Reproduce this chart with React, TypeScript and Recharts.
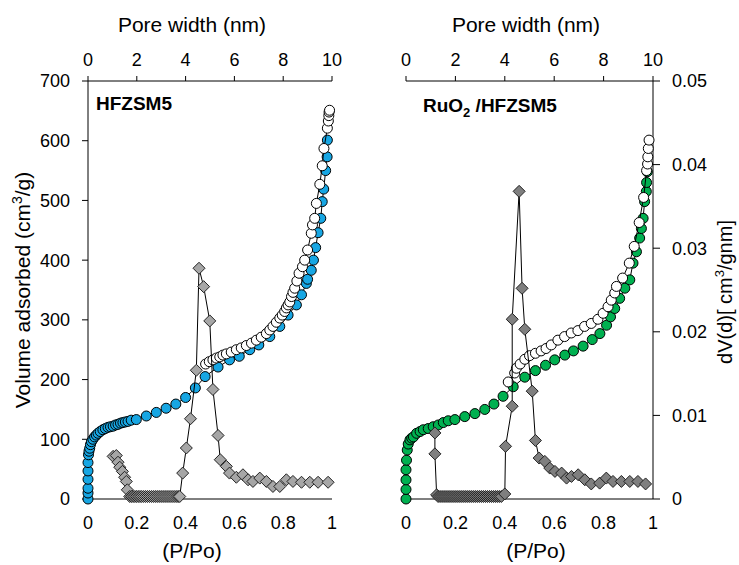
import React from "react";
import { ScatterChart, Scatter, XAxis, YAxis } from "recharts";

const FONT = '"Liberation Sans", Arial, sans-serif';

// HFZSM5 isotherm (P/Po vs volume adsorbed, cm3/g)
const hfAdsP = [0, 0, 0, 0, 0, 0, 0.002, 0.004, 0.007, 0.01, 0.014, 0.02, 0.027, 0.034, 0.041, 0.05, 0.061, 0.071, 0.082, 0.092, 0.103, 0.113, 0.123, 0.133, 0.143, 0.153, 0.164, 0.177, 0.198, 0.239, 0.28, 0.32, 0.36, 0.4, 0.44, 0.48, 0.533, 0.58, 0.62, 0.663, 0.7, 0.745, 0.786, 0.82, 0.854, 0.875, 0.895, 0.9, 0.915, 0.924, 0.933, 0.943, 0.954, 0.96, 0.966, 0.974, 0.98, 0.981];
const hfAdsV = [0, 10, 18, 33, 47, 61, 74, 80, 85, 91, 96, 100, 104, 107, 110, 113, 116, 118, 120, 121, 122, 124, 125, 127, 128, 129, 130, 132, 133, 139, 145, 152, 159, 170, 186, 205, 221, 233, 239, 250, 258, 272, 289, 308, 325, 342, 361, 368, 383, 400, 421, 446, 470, 498, 519, 550, 573, 601];
const hfDesP = [0.482, 0.497, 0.512, 0.526, 0.54, 0.553, 0.567, 0.587, 0.608, 0.628, 0.649, 0.67, 0.69, 0.71, 0.731, 0.745, 0.758, 0.772, 0.786, 0.796, 0.806, 0.813, 0.82, 0.827, 0.834, 0.84, 0.847, 0.856, 0.865, 0.879, 0.888, 0.9, 0.915, 0.92, 0.929, 0.936, 0.95, 0.96, 0.967, 0.981, 0.985, 0.987, 0.988, 0.99];
const hfDesV = [226, 230, 233, 236, 238, 241, 243, 246, 250, 253, 257, 261, 266, 271, 277, 283, 289, 296, 303, 308, 314, 320, 325, 330, 339, 346, 353, 365, 378, 389, 400, 417, 445, 459, 470, 495, 527, 558, 587, 621, 633, 642, 648, 651];
// HFZSM5 pore size distribution (pore width nm vs dV(d))
const hfPsdW = [1.03, 1.16, 1.23, 1.3, 1.41, 1.5, 1.57, 1.61, 1.71, 1.78, 1.85, 1.92, 1.99, 2.06, 2.13, 2.2, 2.28, 2.36, 2.44, 2.52, 2.6, 2.68, 2.76, 2.84, 2.92, 3.0, 3.08, 3.16, 3.24, 3.32, 3.4, 3.48, 3.56, 3.64, 3.7, 3.76, 3.88, 4.03, 4.2, 4.44, 4.55, 4.74, 4.99, 5.12, 5.33, 5.42, 5.67, 5.8, 6.08, 6.35, 6.56, 6.76, 7.04, 7.31, 7.58, 7.86, 8.13, 8.4, 8.75, 9.09, 9.43, 9.84];
const hfPsdD = [0.0051, 0.0052, 0.0044, 0.0038, 0.0033, 0.0026, 0.0021, 0.0011, 0.0003, 0.0003, 0.0003, 0.0003, 0.0003, 0.0003, 0.0003, 0.0003, 0.0003, 0.0003, 0.0003, 0.0003, 0.0003, 0.0003, 0.0003, 0.0003, 0.0003, 0.0003, 0.0003, 0.0003, 0.0003, 0.0003, 0.0003, 0.0003, 0.0003, 0.0003, 0.0003, 0.0003, 0.0031, 0.0061, 0.0096, 0.0154, 0.0276, 0.0254, 0.0213, 0.0131, 0.0076, 0.0047, 0.0039, 0.0031, 0.0026, 0.0029, 0.0023, 0.0021, 0.0025, 0.0021, 0.0015, 0.0015, 0.0023, 0.0021, 0.002, 0.002, 0.002, 0.002];

// RuO2/HFZSM5 isotherm
const ruAdsP = [0, 0, 0, 0, 0.002, 0.005, 0.009, 0.016, 0.023, 0.03, 0.043, 0.057, 0.07, 0.09, 0.11, 0.131, 0.151, 0.171, 0.198, 0.238, 0.279, 0.319, 0.356, 0.393, 0.434, 0.481, 0.524, 0.565, 0.602, 0.643, 0.678, 0.717, 0.754, 0.785, 0.812, 0.828, 0.845, 0.865, 0.886, 0.906, 0.919, 0.933, 0.946, 0.953, 0.96, 0.966, 0.973, 0.974, 0.977];
const ruAdsV = [0, 16, 32, 49, 65, 82, 92, 99, 102, 104, 110, 113, 116, 118, 121, 124, 128, 131, 133, 138, 143, 150, 159, 172, 188, 204, 215, 224, 233, 241, 248, 256, 267, 277, 291, 305, 319, 336, 353, 367, 395, 414, 437, 453, 470, 498, 515, 530, 548];
const ruDesP = [0.414, 0.44, 0.447, 0.462, 0.481, 0.5, 0.524, 0.547, 0.567, 0.588, 0.615, 0.642, 0.669, 0.696, 0.723, 0.75, 0.777, 0.798, 0.818, 0.831, 0.845, 0.852, 0.877, 0.904, 0.924, 0.944, 0.962, 0.974, 0.978, 0.979, 0.981, 0.984];
const ruDesV = [196, 211, 219, 226, 234, 240, 244, 248, 252, 258, 266, 272, 278, 282, 289, 294, 301, 311, 322, 333, 345, 356, 370, 395, 423, 463, 505, 550, 561, 573, 587, 601];
// RuO2/HFZSM5 pore size distribution
const ruPsdW = [1.17, 1.17, 1.24, 1.3, 1.38, 1.46, 1.54, 1.62, 1.7, 1.78, 1.86, 1.94, 2.02, 2.1, 2.18, 2.26, 2.34, 2.42, 2.5, 2.58, 2.66, 2.74, 2.82, 2.9, 2.98, 3.06, 3.14, 3.22, 3.3, 3.38, 3.46, 3.54, 3.62, 3.7, 3.78, 3.86, 4.0, 4.03, 4.3, 4.3, 4.58, 4.7, 4.81, 5.11, 5.24, 5.39, 5.62, 5.82, 6.03, 6.3, 6.5, 6.7, 6.97, 7.24, 7.5, 7.84, 8.11, 8.38, 8.72, 9.06, 9.39, 9.7];
const ruPsdD = [0.0079, 0.0054, 0.0005, 0.0003, 0.0003, 0.0003, 0.0003, 0.0003, 0.0003, 0.0003, 0.0003, 0.0003, 0.0003, 0.0003, 0.0003, 0.0003, 0.0003, 0.0003, 0.0003, 0.0003, 0.0003, 0.0003, 0.0003, 0.0003, 0.0003, 0.0003, 0.0003, 0.0003, 0.0003, 0.0003, 0.0003, 0.0003, 0.0003, 0.0003, 0.0003, 0.0003, 0.0006, 0.0063, 0.0111, 0.0215, 0.0368, 0.0252, 0.0203, 0.0129, 0.007, 0.0049, 0.0045, 0.0037, 0.0033, 0.0031, 0.0025, 0.0027, 0.0029, 0.0023, 0.0018, 0.0019, 0.0025, 0.0021, 0.0021, 0.0021, 0.0021, 0.0018];

const pTicks = [0, 0.2, 0.4, 0.6, 0.8, 1];
const wTicks = [0, 2, 4, 6, 8, 10];
const vTicks = [0, 100, 200, 300, 400, 500, 600, 700];
const dTicks = [0, 0.01, 0.02, 0.03, 0.04, 0.05];

const iso = (ps: number[], vs: number[]) => ps.map((p, i) => ({ p, v: vs[i] }));
const psd = (ws: number[], ds: number[]) => ws.map((w, i) => ({ w, d: ds[i] }));

const tickStyle = { fill: "#000", fontSize: 18, fontFamily: FONT };
const lineStyle = { stroke: "#000", strokeWidth: 1 };

const dot = (fill: string) => (p: any) => (
  <circle cx={p.cx} cy={p.cy} r={5} fill={fill} stroke="#000" strokeWidth={1} />
);
const diamond = (fill: string) => (p: any) => (
  <polygon
    points={`${p.cx},${p.cy - 6} ${p.cx + 6},${p.cy} ${p.cx},${p.cy + 6} ${p.cx - 6},${p.cy}`}
    fill={fill}
    stroke="#222"
    strokeWidth={1}
  />
);

const topTitle = (x: number) => () => (
  <text x={x} y={32} textAnchor="middle" fontSize={21} fontFamily={FONT} fill="#000">
    Pore width (nm)
  </text>
);
const bottomTitle = (x: number) => () => (
  <text x={x} y={558} textAnchor="middle" fontSize={21} fontFamily={FONT} fill="#000">
    (P/Po)
  </text>
);
const volTitle = () => (
  <text transform="translate(23, 290) rotate(-90)" textAnchor="middle" dy="0.35em" fontSize={21} fontFamily={FONT} fill="#000">
    Volume adsorbed (cm<tspan dy={-8} fontSize={14}>3</tspan>
    <tspan dy={8}>/g)</tspan>
  </text>
);
const dvTitle = () => (
  <text transform="translate(355, 292) rotate(-90)" textAnchor="middle" dy="0.35em" fontSize={20} fontFamily={FONT} fill="#000">
    dV(d)[ cm<tspan dy={-8} fontSize={13}>3</tspan>
    <tspan dy={8}>/gnm]</tspan>
  </text>
);

export default function App() {
  return (
    <div style={{ position: "absolute", left: 0, top: 0, width: 739, height: 565, background: "#fff" }}>
      {/* HFZSM5 */}
      <div style={{ position: "absolute", left: 0, top: 0 }}>
        <ScatterChart width={345} height={565} margin={{ top: 0, right: 13, bottom: 0, left: 0 }}>
          <XAxis xAxisId="w" orientation="top" type="number" dataKey="w" domain={[0, 10]} ticks={wTicks}
            height={81} tickSize={5} tickMargin={10} tick={tickStyle} stroke="#000" label={topTitle(192)} />
          <XAxis xAxisId="p" orientation="bottom" type="number" dataKey="p" domain={[0, 1]} ticks={pTicks}
            height={66} tickSize={0} tickMargin={17} tick={tickStyle} stroke="#000" label={bottomTitle(192)} />
          <YAxis yAxisId="v" type="number" dataKey="v" domain={[0, 700]} ticks={vTicks} width={88}
            tickSize={6} tickMargin={12} tick={tickStyle} stroke="#000" label={volTitle} />
          <YAxis yAxisId="d" orientation="right" type="number" dataKey="d" domain={[0, 0.05]} width={0}
            tick={false} tickLine={false} stroke="#000" />
          <Scatter data={iso(hfAdsP, hfAdsV)} xAxisId="p" yAxisId="v" line={lineStyle} shape={dot("#17a6e3")} isAnimationActive={false} />
          <Scatter data={iso(hfDesP, hfDesV)} xAxisId="p" yAxisId="v" line={lineStyle} shape={dot("#fff")} isAnimationActive={false} />
          <Scatter data={psd(hfPsdW, hfPsdD)} xAxisId="w" yAxisId="d" line={lineStyle} shape={diamond("#a6a6a6")} isAnimationActive={false} />
          <text x={96} y={110} fontSize={19} fontWeight="bold" fontFamily={FONT} fill="#000">HFZSM5</text>
        </ScatterChart>
      </div>
      {/* RuO2/HFZSM5 */}
      <div style={{ position: "absolute", left: 370, top: 0 }}>
        <ScatterChart width={369} height={565} margin={{ top: 0, right: 0, bottom: 0, left: 36 }}>
          <XAxis xAxisId="w" orientation="top" type="number" dataKey="w" domain={[0, 10]} ticks={wTicks}
            height={81} tickSize={5} tickMargin={10} tick={tickStyle} stroke="#000" label={topTitle(156)} />
          <XAxis xAxisId="p" orientation="bottom" type="number" dataKey="p" domain={[0, 1]} ticks={pTicks}
            height={66} tickSize={0} tickMargin={17} tick={tickStyle} stroke="#000" label={bottomTitle(166)} />
          <YAxis yAxisId="v" type="number" dataKey="v" domain={[0, 700]} width={0}
            tick={false} tickLine={false} stroke="#000" />
          <YAxis yAxisId="d" orientation="right" type="number" dataKey="d" domain={[0, 0.05]} ticks={dTicks} width={86}
            tickSize={7} tickMargin={12} tick={tickStyle} stroke="#000" label={dvTitle} />
          <Scatter data={iso(ruAdsP, ruAdsV)} xAxisId="p" yAxisId="v" line={lineStyle} shape={dot("#00b050")} isAnimationActive={false} />
          <Scatter data={iso(ruDesP, ruDesV)} xAxisId="p" yAxisId="v" line={lineStyle} shape={dot("#fff")} isAnimationActive={false} />
          <Scatter data={psd(ruPsdW, ruPsdD)} xAxisId="w" yAxisId="d" line={lineStyle} shape={diamond("#7f7f7f")} isAnimationActive={false} />
          <text x={53} y={112} fontSize={19} fontWeight="bold" fontFamily={FONT} fill="#000">
            RuO<tspan dy={5} fontSize={13}>2</tspan>
            <tspan dy={-5}> /HFZSM5</tspan>
          </text>
        </ScatterChart>
      </div>
    </div>
  );
}
